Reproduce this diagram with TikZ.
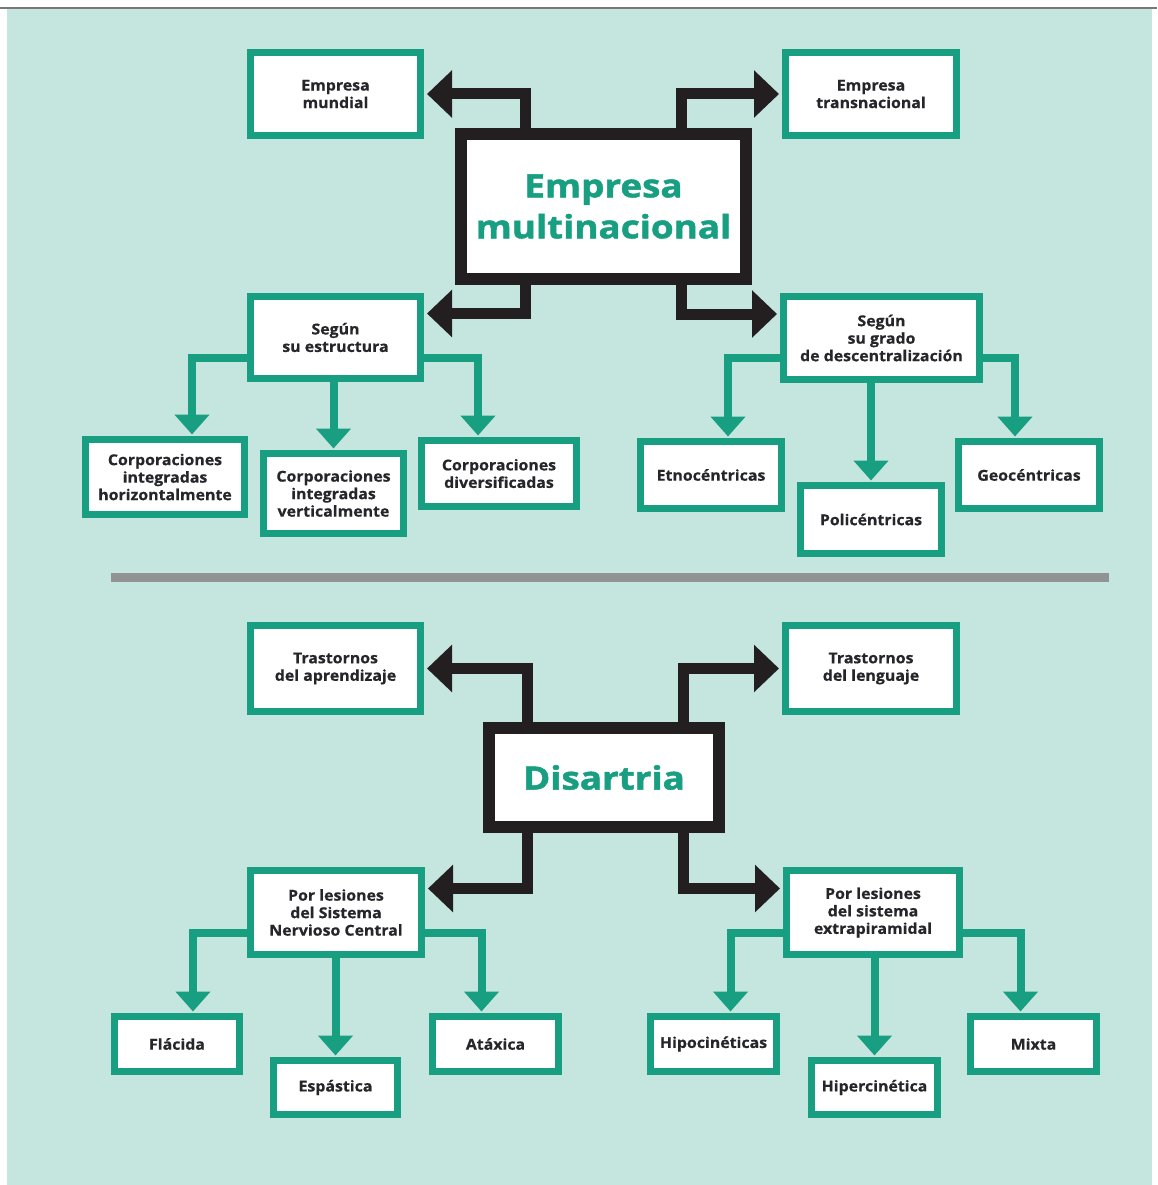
\documentclass[tikz,border=0pt]{standalone}
\usepackage{fontspec}
\setmainfont{Open Sans}
\newfontfamily\labelfont{Open Sans}[FakeStretch=1.06, FakeBold=0.5]
\newfontfamily\titlefont{Open Sans}[FakeStretch=1.15, FakeBold=1.5]
\usetikzlibrary{arrows.meta}

\definecolor{mint}{RGB}{197,230,223}
\definecolor{teal}{RGB}{24,158,129}
\definecolor{ink}{RGB}{38,38,42}
\definecolor{blk}{RGB}{35,31,32}
\definecolor{sep}{RGB}{145,146,146}
\definecolor{rule}{RGB}{120,120,120}

\tikzset{
  tbox/.style={draw=teal, line width=7pt, fill=white, text=ink, align=center,
    inner sep=0pt, font=\labelfont\bfseries\fontsize{15}{17.5}\selectfont},
  kbox/.style={draw=blk, line width=12pt, fill=white, text=teal, align=center,
    inner sep=0pt, font=\titlefont\bfseries\fontsize{32}{41}\selectfont},
  karrow/.style={draw=blk, line width=11pt, shorten >=3pt,
    -{Triangle[length=25pt,width=46pt]}},
  tarrow/.style={draw=teal, line width=8pt, shorten >=1.5pt,
    -{Triangle[length=20pt,width=34pt]}},
}

\begin{document}
\begin{tikzpicture}[x=1pt,y=-1pt]
  % page and panel
  \useasboundingbox (0,0) rectangle (1157,1185);
  \fill[white] (0,0) rectangle (1157,1185);
  \fill[mint] (7,9) rectangle (1152,1185);
  \draw[rule, line width=2pt] (0,8) -- (1157,8);

  % ---------- multinational company ----------
  \node[kbox, minimum width=285pt, minimum height=145pt] (cen) at (603.5,206.5) {Empresa\\multinacional};
  \node[tbox, minimum width=170pt, minimum height=83pt] (mun) at (335.5,94) {Empresa\\mundial};
  \node[tbox, minimum width=171pt, minimum height=83pt] (tra) at (871,94) {Empresa\\transnacional};
  \node[tbox, minimum width=170pt, minimum height=82pt] (est) at (335.5,337.5) {Según\\su estructura};
  \node[tbox, minimum width=196pt, minimum height=83pt] (des) at (881.5,338) {Según\\su grado\\de descentralización};

  \node[tbox, minimum width=159pt, minimum height=75pt] (hor) at (165,477) {Corporaciones\\integradas\\horizontalmente};
  \node[tbox, minimum width=140pt, minimum height=80pt] (ver) at (333.5,493.5) {Corporaciones\\integradas\\verticalmente};
  \node[tbox, minimum width=155pt, minimum height=66pt] (div) at (499,473.5) {Corporaciones\\diversificadas};
  \node[tbox, minimum width=141pt, minimum height=67pt] (etn) at (711,475) {Etnocéntricas};
  \node[tbox, minimum width=141pt, minimum height=68pt] (pol) at (871,519.5) {Policéntricas};
  \node[tbox, minimum width=141pt, minimum height=67pt] (geo) at (1029,475) {Geocéntricas};

  \draw[karrow] ([xshift=-78pt]cen.north) |- (mun.east);
  \draw[karrow] ([xshift=78pt]cen.north) |- (tra.west);
  \draw[karrow] ([xshift=-78pt]cen.south) |- ([yshift=24pt]est.east);
  \draw[karrow] ([xshift=78pt]cen.south) |- ([yshift=24pt]des.west);

  \draw[tarrow] ([yshift=-20pt]est.west) -| ([xshift=27pt]hor.north);
  \draw[tarrow] (ver.north |- est.south) -- (ver.north);
  \draw[tarrow] ([yshift=-20pt]est.east) -| ([xshift=-21pt]div.north);
  \draw[tarrow] ([yshift=-20pt]des.west) -| ([xshift=17pt]etn.north);
  \draw[tarrow] (pol.north |- des.south) -- (pol.north);
  \draw[tarrow] ([yshift=-20pt]des.east) -| ([xshift=-14pt]geo.north);

  % separator
  \draw[sep, line width=9pt] (111,577) -- (1109,577);

  % ---------- dysarthria ----------
  \node[kbox, minimum width=230pt, minimum height=99pt] (dis) at (604,777.5) {Disartria};
  \node[tbox, minimum width=170pt, minimum height=86pt] (apr) at (335.5,668.5) {Trastornos\\del aprendizaje};
  \node[tbox, minimum width=171pt, minimum height=86pt] (len) at (871,668.5) {Trastornos\\del lenguaje};
  \node[tbox, minimum width=171pt, minimum height=84pt] (snc) at (336,912.5) {Por lesiones\\del Sistema\\Nervioso Central};
  \node[tbox, minimum width=173pt, minimum height=84pt] (ext) at (873,912.5) {Por lesiones\\del sistema\\extrapiramidal};

  \node[tbox, minimum width=125pt, minimum height=55pt] (fla) at (177,1044) {Flácida};
  \node[tbox, minimum width=124pt, minimum height=54pt] (esp) at (335.5,1087.5) {Espástica};
  \node[tbox, minimum width=126pt, minimum height=55pt] (ata) at (495.5,1044) {Atáxica};
  \node[tbox, minimum width=126pt, minimum height=55pt] (hpo) at (713.5,1044) {Hipocinéticas};
  \node[tbox, minimum width=126pt, minimum height=54pt] (hpr) at (874.5,1087.5) {Hipercinética};
  \node[tbox, minimum width=126pt, minimum height=55pt] (mix) at (1033.5,1044) {Mixta};

  \draw[karrow] ([xshift=-77pt]dis.north) |- (apr.east);
  \draw[karrow] ([xshift=79pt]dis.north) |- (len.west);
  \draw[karrow] ([xshift=-77pt]dis.south) |- ([yshift=24pt]snc.east);
  \draw[karrow] ([xshift=79pt]dis.south) |- ([yshift=24pt]ext.west);

  \draw[tarrow] ([yshift=-20pt]snc.west) -| ([xshift=16pt]fla.north);
  \draw[tarrow] (esp.north |- snc.south) -- (esp.north);
  \draw[tarrow] ([yshift=-20pt]snc.east) -| ([xshift=-14pt]ata.north);
  \draw[tarrow] ([yshift=-20pt]ext.west) -| ([xshift=17pt]hpo.north);
  \draw[tarrow] (hpr.north |- ext.south) -- (hpr.north);
  \draw[tarrow] ([yshift=-20pt]ext.east) -| ([xshift=-13pt]mix.north);
\end{tikzpicture}
\end{document}
